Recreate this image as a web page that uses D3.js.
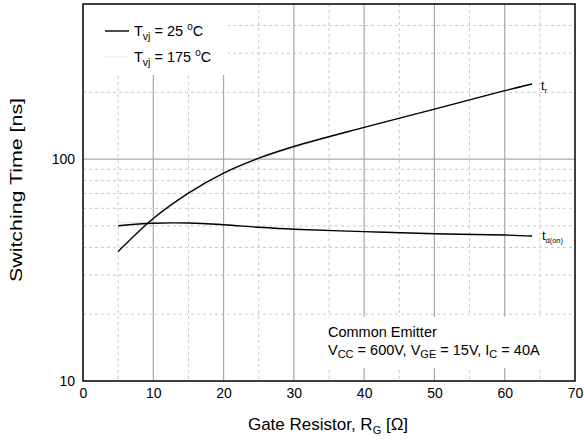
<!DOCTYPE html>
<html><head><meta charset="utf-8">
<script src="https://cdn.jsdelivr.net/npm/d3@7"></script>
<style>body{margin:0;background:#fff}svg{display:block;font-family:"Liberation Sans",Arial,sans-serif}</style>
</head><body><svg id="c" width="584" height="440"></svg>
<script>
const rg = [5, 10, 15, 20, 25, 30, 40, 50, 60, 63.9];
const tr25 = [38.3, 54, 70.3, 86.5, 101, 114, 139, 168, 203.4, 218];
const tdon25 = [50.1, 51.4, 51.5, 50.6, 49.3, 48.3, 47.1, 46.1, 45.5, 45.0];
const tr175 = [38.6, 54.5, 69.2, 84.3, 99.2, 112.6, 138.5, 167.5, 203, 218];
const tdon175 = [51.6, 51.9, 51.7, 50.9, 49.5, 48.4, 47.2, 46.2, 45.6, 45.1];
const xTicks = [0, 10, 20, 30, 40, 50, 60, 70];
const xMinor = [5, 15, 25, 35, 45, 55, 65];
const yTicks = [10, 100];
const yMinor = [20, 30, 40, 50, 60, 70, 80, 90, 200, 300, 400];

const svg = d3.select("#c");
const x = d3.scaleLinear().domain([0, 70]).range([83, 575]);
const y = d3.scaleLog().domain([10, 500]).range([381, 4]);

const g = svg.append("g");
g.selectAll(".vm").data(xMinor).join("line")
  .attr("x1", d => x(d)).attr("x2", d => x(d)).attr("y1", y(500)).attr("y2", y(10))
  .attr("stroke", "#c8c8c8").attr("stroke-width", 1).attr("stroke-dasharray", "3,3");
g.selectAll(".hm").data(yMinor).join("line")
  .attr("x1", x(0)).attr("x2", x(70)).attr("y1", d => y(d)).attr("y2", d => y(d))
  .attr("stroke", "#c8c8c8").attr("stroke-width", 1).attr("stroke-dasharray", "3,3");
g.selectAll(".vM").data(xTicks.slice(1, -1)).join("line")
  .attr("x1", d => x(d)).attr("x2", d => x(d)).attr("y1", y(500)).attr("y2", y(10))
  .attr("stroke", "#a8a8a8").attr("stroke-width", 1.2);
g.append("line").attr("x1", x(0)).attr("x2", x(70)).attr("y1", y(100)).attr("y2", y(100))
  .attr("stroke", "#a8a8a8").attr("stroke-width", 1.2);

svg.append("rect").attr("x", x(0)).attr("y", y(500)).attr("width", 145).attr("height", 71).attr("fill", "#fff");
svg.append("rect").attr("x", 323).attr("y", 317).attr("width", 251).attr("height", 51).attr("fill", "#fff");

const line = d3.line().x((d, i) => x(rg[i])).y(d => y(d)).curve(d3.curveCatmullRom.alpha(0.5));
[tr175, tdon175].forEach(s => svg.append("path").attr("d", line(s)).attr("fill", "none")
  .attr("stroke", "#c4c4c4").attr("stroke-width", 1).attr("stroke-dasharray", "1,1.5"));
[tr25, tdon25].forEach(s => svg.append("path").attr("d", line(s)).attr("fill", "none")
  .attr("stroke", "#000").attr("stroke-width", 1.4));

svg.append("rect").attr("x", x(0)).attr("y", y(500)).attr("width", x(70) - x(0)).attr("height", y(10) - y(500))
  .attr("fill", "none").attr("stroke", "#000").attr("stroke-width", 1.5);

const ax = d3.axisBottom(x).tickValues(xTicks).tickSize(0).tickPadding(7);
const gx = svg.append("g").attr("transform", `translate(0,${y(10)})`).call(ax);
gx.select(".domain").remove();
gx.selectAll("text").attr("font-size", 14).attr("fill", "#000").attr("font-family", "Liberation Sans, Arial, sans-serif");
const ay = d3.axisLeft(y).tickValues(yTicks).tickFormat(d3.format("d")).tickSize(0).tickPadding(8);
const gy = svg.append("g").attr("transform", `translate(${x(0)},0)`).call(ay);
gy.select(".domain").remove();
gy.selectAll("text").attr("font-size", 14).attr("fill", "#000").attr("font-family", "Liberation Sans, Arial, sans-serif");

const T = (sel, xx, yy, fs) => sel.append("text").attr("x", xx).attr("y", yy).attr("font-size", fs).attr("fill", "#000");
const xt = T(svg, 328, 430, 17).attr("text-anchor", "middle");
xt.append("tspan").text("Gate Resistor, R");
xt.append("tspan").attr("font-size", 11).attr("dy", 4).text("G");
xt.append("tspan").attr("dy", -4).text(" [Ω]");
svg.append("text").attr("transform", "translate(22,190) rotate(-90)").attr("text-anchor", "middle")
  .attr("font-size", 16).attr("fill", "#000").attr("textLength", 184).attr("lengthAdjust", "spacingAndGlyphs")
  .text("Switching Time [ns]");

svg.append("line").attr("x1", 105).attr("x2", 129).attr("y1", 31).attr("y2", 31).attr("stroke", "#000").attr("stroke-width", 1.4);
svg.append("line").attr("x1", 105).attr("x2", 129).attr("y1", 57).attr("y2", 57).attr("stroke", "#c4c4c4").attr("stroke-width", 1).attr("stroke-dasharray", "1,1.5");
function leg(yy, v) {
  const t = T(svg, 134, yy, 14.5);
  t.append("tspan").text("T");
  t.append("tspan").attr("font-size", 10.5).attr("dy", 4).text("vj");
  t.append("tspan").attr("dy", -4).text(" = " + v + " ");
  t.append("tspan").attr("font-size", 10).attr("dy", -6).text("o");
  t.append("tspan").attr("dy", 6).text("C");
}
leg(36, "25");
leg(62, "175");

const l1 = T(svg, 541, 90, 12.5); l1.append("tspan").text("t"); l1.append("tspan").attr("font-size", 7.5).attr("dy", 3).text("r");
const l2 = T(svg, 542, 240, 12.5); l2.append("tspan").text("t"); l2.append("tspan").attr("font-size", 7.5).attr("dy", 3).text("d(on)");

T(svg, 328, 337, 14.5).text("Common Emitter");
const a = T(svg, 328, 355, 14.5);
a.append("tspan").text("V");
a.append("tspan").attr("font-size", 11).attr("dy", 3).text("CC");
a.append("tspan").attr("dy", -3).text(" = 600V, V");
a.append("tspan").attr("font-size", 11).attr("dy", 3).text("GE");
a.append("tspan").attr("dy", -3).text(" = 15V, I");
a.append("tspan").attr("font-size", 11).attr("dy", 3).text("C");
a.append("tspan").attr("dy", -3).text(" = 40A");
</script></body></html>
